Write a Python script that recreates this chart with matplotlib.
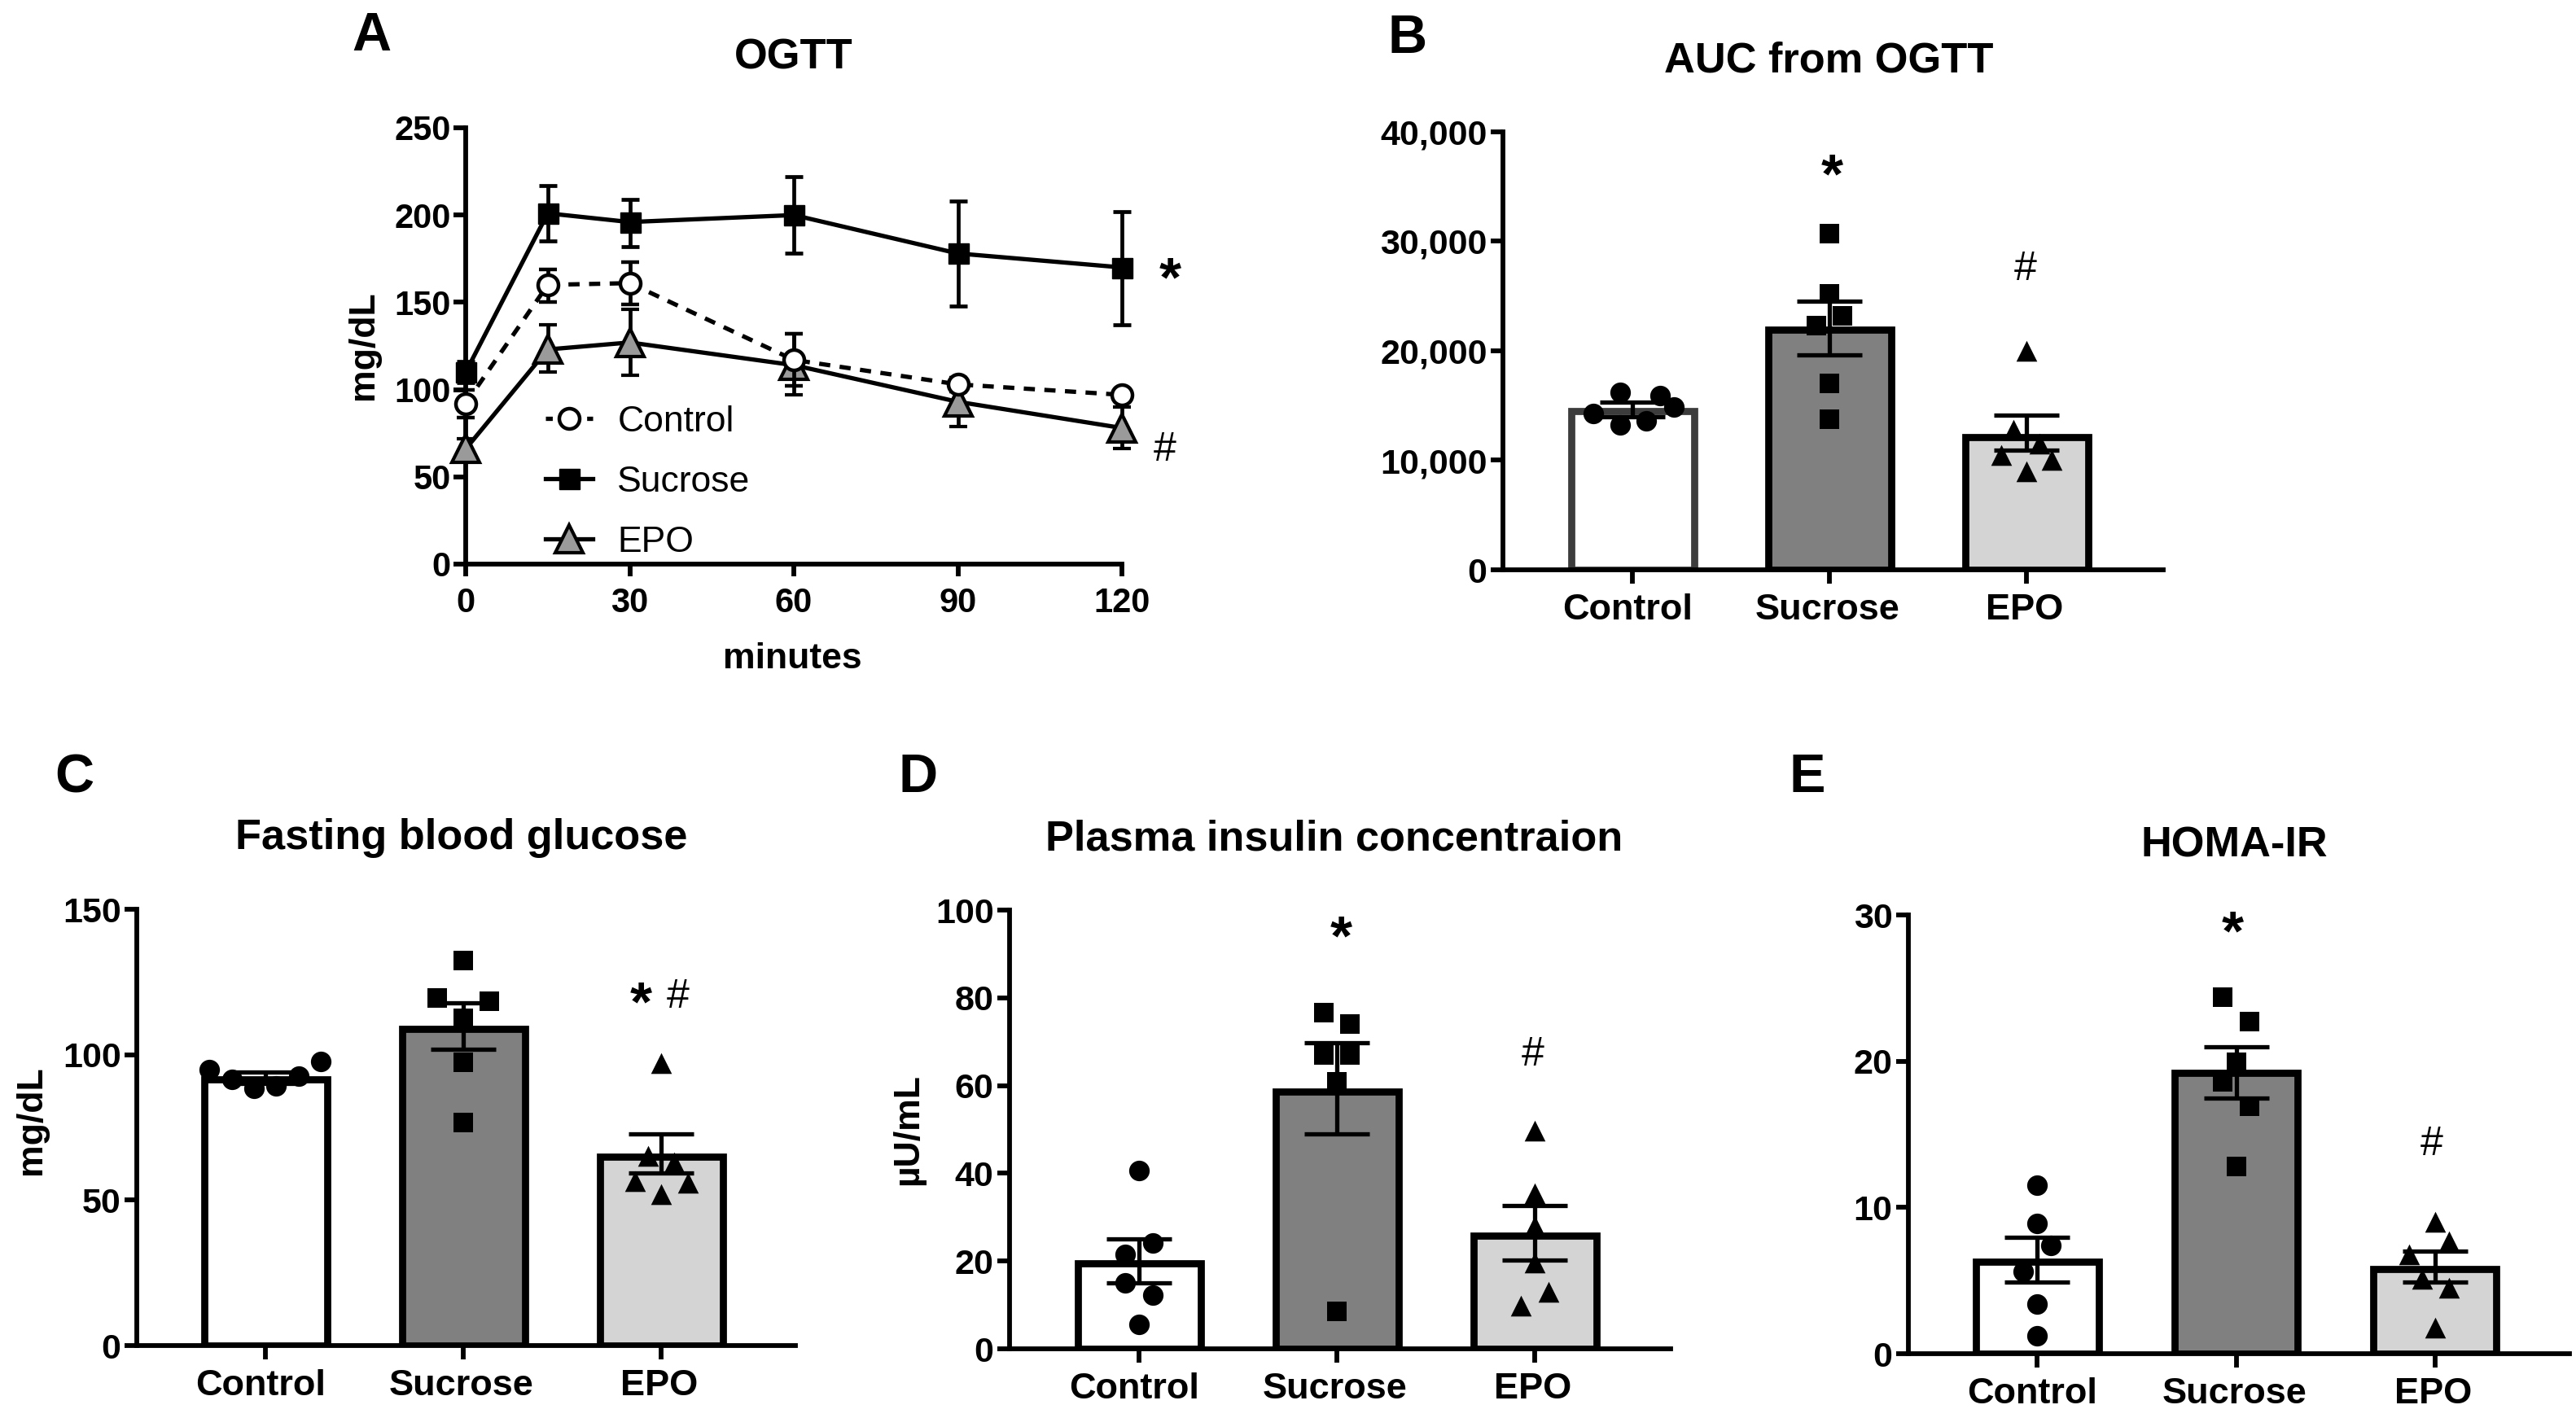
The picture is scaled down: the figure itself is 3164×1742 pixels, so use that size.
import matplotlib
matplotlib.use("Agg")
import matplotlib.pyplot as plt

plt.rcParams['font.family'] = ['Liberation Sans', 'DejaVu Sans']

W, H, DPI = 3164, 1742, 100

# ---------- data ----------
categories = ['Control', 'Sucrose', 'EPO']
minutes = [0, 15, 30, 60, 90, 120]

ogtt_control = [92, 160, 161, 117, 103, 97]
ogtt_control_hi = [100, 169, 173, 132, 107, 99]
ogtt_control_lo = [84, 150, 149, 102, 99, 95]
ogtt_sucrose = [110, 201, 196, 200, 178, 170]
ogtt_sucrose_hi = [116, 217, 209, 222, 208, 202]
ogtt_sucrose_lo = [104, 185, 182, 178, 148, 137]
ogtt_epo = [66, 123, 127, 114, 93, 78]
ogtt_epo_hi = [72, 137, 146, 132, 106, 90]
ogtt_epo_lo = [60, 110, 108, 97, 79, 66]

auc_means = [14500, 21900, 12100]
auc_hi = [15300, 24500, 14100]
auc_lo = [14000, 19600, 10900]
auc_control = [16200, 15900, 14900, 14300, 13200, 13600]
auc_sucrose = [30700, 25200, 23200, 22300, 17000, 13750]
auc_epo = [20000, 12800, 11550, 10500, 10000, 9000]

fbg_means = [91.5, 109, 65]
fbg_hi = [94, 117.8, 72.7]
fbg_lo = [90, 101.8, 59.2]
fbg_control = [94.9, 91.4, 88.4, 89.2, 92.6, 97.6]
fbg_sucrose = [132.5, 119.4, 118.5, 112.5, 97.5, 76.6]
fbg_epo = [97.1, 65.2, 63.1, 56.6, 55.9, 52.1]

ins_means = [19.5, 58.7, 25.7]
ins_hi = [25.1, 69.8, 32.6]
ins_lo = [15, 48.9, 20.2]
ins_control = [40.7, 24.2, 21.5, 15, 12.3, 5.5]
ins_sucrose = [76.6, 74, 67, 67, 60.8, 8.5]
ins_epo = [49.7, 35.5, 28, 19.7, 13, 9.8]

homa_means = [6.3, 19.2, 5.8]
homa_hi = [7.95, 21, 7]
homa_lo = [4.9, 17.5, 4.9]
homa_control = [11.5, 8.9, 7.4, 5.6, 3.4, 1.2]
homa_sucrose = [24.4, 22.7, 19.9, 18.6, 16.9, 12.8]
homa_epo = [9, 7.7, 6.8, 5.1, 4.5, 1.8]

# horizontal scatter of the dots, in category widths
jit_b = [[-.063, .14, .21, -.2, -.063, .07], [0, 0, .066, -.066, 0, 0], [0, -.066, .066, -.13, .13, 0]]
jit_c = [[-.283, -.17, -.058, .055, .167, .28], [0, -.13, .13, 0, 0, 0], [0, -.066, .066, -.13, .137, 0]]
jit_d = [[0, .07, -.07, -.07, .07, 0], [-.066, .066, -.066, .066, 0, 0], [0, 0, 0, 0, .07, -.07]]
jit_e = [[0, 0, .07, -.07, 0, 0], [-.066, .066, 0, -.066, .066, 0], [0, .07, -.13, -.066, .07, 0]]

# ---------- styling ----------
BAR_FILL = ['white', '#808080', '#d4d4d4']
MARK = ['o', 's', '^']
AXW = 4.2
BARW = 6.3

fig = plt.figure(figsize=(W / DPI, H / DPI), dpi=DPI, facecolor='white')


def ftext(x, y, s, **kw):
    kw.setdefault('ha', 'center')
    kw.setdefault('va', 'center')
    fig.text(x / W, 1 - y / H, s, **kw)


def make_axes(left, right, top, bottom):
    ax = fig.add_axes([left / W, 1 - bottom / H, (right - left) / W, (bottom - top) / H])
    for s in ('top', 'right'):
        ax.spines[s].set_visible(False)
    for s in ('left', 'bottom'):
        ax.spines[s].set_linewidth(AXW)
    ax.patch.set_alpha(0)
    return ax


def bar_panel(box, ticks_px, ymax, yticks, yfmt, means, hi, lo, pts, jit, edge0='black'):
    left, right, top, bottom = box
    ax = make_axes(left, right, top, bottom)
    sp = (ticks_px[2] - ticks_px[0]) / 2
    ax.set_xlim((left - ticks_px[0]) / sp, 2 + (right - ticks_px[2]) / sp)
    ax.set_ylim(0, ymax)
    xs = [0, 1, 2]
    width = 151 / sp
    edges = [edge0, 'black', 'black']
    ax.bar(xs, means, width=width, color=BAR_FILL, edgecolor=edges, linewidth=BARW, zorder=2)
    for i in xs:
        ax.scatter([i + j for j in jit[i]], pts[i], marker=MARK[i], s=[330, 300, 340][i],
                   color='black', linewidths=0, zorder=3, clip_on=False)
    yerr = [[m - l for m, l in zip(means, lo)], [h - m for m, h in zip(means, hi)]]
    ax.errorbar(xs, means, yerr=yerr, fmt='none', ecolor='black', elinewidth=3.8,
                capsize=29, capthick=3.8, zorder=4)
    ax.set_xticks(xs, categories)
    ax.set_yticks(yticks, [yfmt.format(v) for v in yticks])
    ax.tick_params(axis='y', length=11, width=AXW, labelsize=31, pad=3)
    ax.tick_params(axis='x', length=12, width=AXW, labelsize=32.5, pad=9)
    for t in ax.get_yticklabels():
        t.set_fontweight('bold')
    for t, dx in zip(ax.get_xticklabels(), (-6, -2, -2)):
        t.set_fontweight('bold')
        t.set_x(t.get_position()[0])
        t.set_transform(t.get_transform() + matplotlib.transforms.Affine2D().translate(dx, 0))
    return ax


# ---------- A ----------
axA = make_axes(572, 1378, 157, 693)
axA.set_xlim(0, 120)
axA.set_ylim(0, 250)
LW = 3.8
ms = 18
cs = 8


def err(v, h, l):
    return [[a - b for a, b in zip(v, l)], [b - a for a, b in zip(v, h)]]


axA.errorbar(minutes, ogtt_epo, yerr=err(ogtt_epo, ogtt_epo_hi, ogtt_epo_lo), color='black', lw=LW,
             marker='^', ms=ms + 6, mfc='#9a9a9a', mec='black', mew=3, elinewidth=3.4, capsize=cs, capthick=3.4,
             clip_on=False, zorder=3)
axA.errorbar(minutes, ogtt_control, yerr=err(ogtt_control, ogtt_control_hi, ogtt_control_lo), color='black', lw=LW,
             ls=(0, (2.6, 2.2)), marker='o', ms=ms, mfc='white', mec='black', mew=3.2, elinewidth=3.4, capsize=cs,
             capthick=3.4, clip_on=False, zorder=4)
axA.errorbar(minutes, ogtt_sucrose, yerr=err(ogtt_sucrose, ogtt_sucrose_hi, ogtt_sucrose_lo), color='black', lw=LW,
             marker='s', ms=ms, mfc='black', mec='black', elinewidth=3.4, capsize=cs, capthick=3.4,
             clip_on=False, zorder=5)
axA.set_xticks([0, 30, 60, 90, 120])
axA.set_yticks([0, 50, 100, 150, 200, 250])
axA.tick_params(axis='y', length=11, width=AXW, labelsize=30, pad=2)
axA.tick_params(axis='x', length=11, width=AXW, labelsize=30, pad=9)
for t in axA.get_xticklabels() + axA.get_yticklabels():
    t.set_fontweight('bold')

h_c = plt.Line2D([], [], color='black', lw=LW, ls=(0, (1.6, 1.6)), marker='o', ms=ms, mfc='white', mec='black', mew=3.2)
h_s = plt.Line2D([], [], color='black', lw=LW, marker='s', ms=ms, mfc='black', mec='black')
h_e = plt.Line2D([], [], color='black', lw=LW, marker='^', ms=ms + 6, mfc='#9a9a9a', mec='black', mew=3)
axA.legend([h_c, h_s, h_e], categories, loc='lower left', bbox_to_anchor=(0.122, 0.012), frameon=False,
           fontsize=32, labelspacing=0.74, handlelength=1.3, handletextpad=0.68, borderpad=0, borderaxespad=0)

# ---------- B-E ----------
bar_panel((1846, 2657, 162, 700), (2005, 2248, 2489), 40000, [0, 10000, 20000, 30000, 40000], '{:,}',
          auc_means, auc_hi, auc_lo, [auc_control, auc_sucrose, auc_epo], jit_b, edge0='#3c3c3c')
bar_panel((168, 977, 1117, 1653), (326, 569, 812), 150, [0, 50, 100, 150], '{}',
          fbg_means, fbg_hi, fbg_lo, [fbg_control, fbg_sucrose, fbg_epo], jit_c)
bar_panel((1240, 2052, 1118, 1657), (1399, 1643, 1885), 100, [0, 20, 40, 60, 80, 100], '{}',
          ins_means, ins_hi, ins_lo, [ins_control, ins_sucrose, ins_epo], jit_d)
bar_panel((2344, 3156, 1124, 1663), (2502, 2746, 2991), 30, [0, 10, 20, 30], '{}',
          homa_means, homa_hi, homa_lo, [homa_control, homa_sucrose, homa_epo], jit_e)

# ---------- text ----------
for (x, y, s) in [(456, 45, 'A'), (1729, 48, 'B'), (91, 956, 'C'), (1128, 956, 'D'), (2220, 956, 'E')]:
    ftext(x, y, s, fontsize=48, fontweight='bold')
for (x, y, s) in [(975, 71, 'OGTT'), (2246, 75, 'AUC from OGTT'), (567, 1029, 'Fasting blood glucose'),
                  (1639, 1031, 'Plasma insulin concentraion'), (2744, 1039, 'HOMA-IR')]:
    ftext(x, y, s, fontsize=37.7, fontweight='bold')
ftext(973, 809, 'minutes', fontsize=32, fontweight='bold')
for (x, y, s) in [(446, 424, 'mg/dL'), (38, 1376, 'mg/dL'), (1116, 1388, 'µU/mL')]:
    ftext(x, y, s, fontsize=32, fontweight='bold', rotation=90)
for (x, y) in [(1437, 345), (2250, 218), (787, 1235), (1647, 1154), (2742, 1148)]:
    ftext(x, y, '*', fontsize=50, fontweight='bold')
for (x, y) in [(1431, 553), (2488, 331), (833, 1225), (1883, 1296), (2987, 1406)]:
    ftext(x, y, '#', fontsize=36)

fig.savefig('out.png', dpi=DPI, facecolor='white')
